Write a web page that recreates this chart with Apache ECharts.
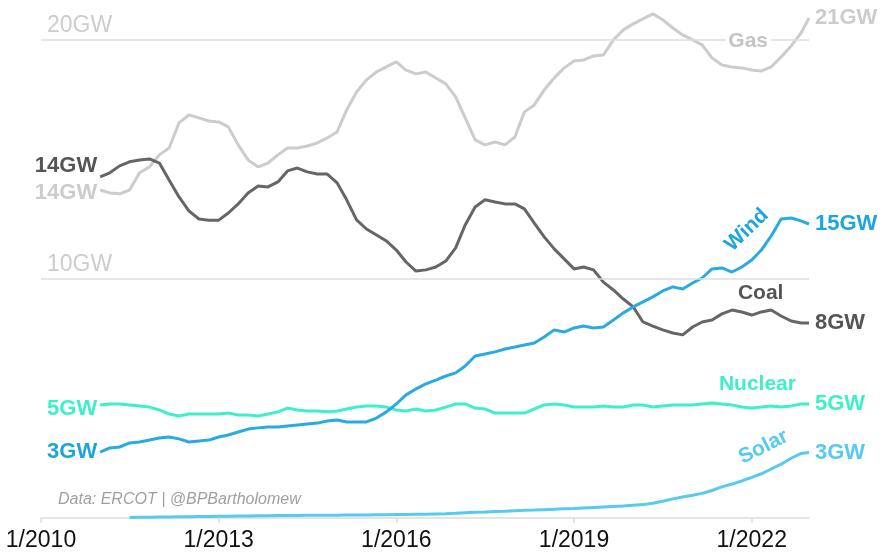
<!DOCTYPE html>
<html>
<head>
<meta charset="utf-8">
<script src="https://cdn.jsdelivr.net/npm/echarts@6/dist/echarts.min.js"></script>
<style>
  html, body { margin: 0; padding: 0; background: #fff; }
  #chart { width: 884px; height: 554px; }
</style>
</head>
<body>
<div id="chart"></div>
<script>
// every 2 months from 1/2011, last point mid Dec 2022
const dates = []
for (let m = 12; m <= 154; m += 2) {
  dates.push(`${2010 + Math.floor(m / 12)}-${String(m % 12 + 1).padStart(2, '0')}-01`)
}
dates.push('2022-12-20')

const gas = [13.72, 13.6, 13.56, 13.72, 14.44, 14.69, 15.19, 15.48, 16.53, 16.86, 16.74, 16.61,
  16.57, 16.36, 15.61, 14.98, 14.69, 14.85, 15.19, 15.48, 15.48, 15.56, 15.69, 15.9,
  16.15, 17.07, 17.82, 18.33, 18.66, 18.87, 19.08, 18.74, 18.58, 18.66, 18.41, 18.16,
  17.62, 16.74, 15.82, 15.61, 15.73, 15.61, 15.94, 16.99, 17.28, 17.91, 18.41, 18.83,
  19.12, 19.16, 19.33, 19.37, 20.0, 20.42, 20.67, 20.88, 21.09, 20.84, 20.5, 20.21,
  20.0, 19.79, 19.25, 18.95, 18.87, 18.83, 18.74, 18.7, 18.87, 19.29, 19.75, 20.29, 20.92]

const coal = [14.27, 14.44, 14.73, 14.9, 14.98, 15.02, 14.85, 14.14, 13.43, 12.85, 12.51, 12.46,
  12.46, 12.76, 13.14, 13.6, 13.89, 13.85, 14.06, 14.52, 14.64, 14.48, 14.39, 14.39,
  14.02, 13.31, 12.47, 12.09, 11.84, 11.59, 11.21, 10.71, 10.33, 10.38, 10.5, 10.75,
  11.3, 12.26, 13.01, 13.31, 13.22, 13.14, 13.14, 12.93, 12.34, 11.76, 11.26, 10.84,
  10.42, 10.5, 10.38, 9.87, 9.54, 9.16, 8.83, 8.2, 8.03, 7.87, 7.74, 7.66,
  7.99, 8.2, 8.28, 8.54, 8.7, 8.62, 8.49, 8.62, 8.7, 8.45, 8.24, 8.16, 8.16]

const wind = [2.76, 2.93, 2.97, 3.14, 3.18, 3.26, 3.35, 3.39, 3.31, 3.18, 3.22, 3.26,
  3.39, 3.47, 3.6, 3.72, 3.77, 3.81, 3.81, 3.85, 3.89, 3.93, 3.97, 4.06,
  4.1, 4.02, 4.02, 4.02, 4.18, 4.44, 4.77, 5.15, 5.4, 5.61, 5.77, 5.94,
  6.07, 6.36, 6.78, 6.86, 6.95, 7.07, 7.15, 7.24, 7.32, 7.57, 7.87, 7.78,
  7.95, 8.03, 7.95, 7.99, 8.28, 8.58, 8.83, 9.04, 9.25, 9.5, 9.67, 9.58,
  9.83, 10.04, 10.42, 10.46, 10.29, 10.5, 10.79, 11.21, 11.8, 12.51, 12.55, 12.43, 12.3]

const nuclear = [4.73, 4.77, 4.77, 4.73, 4.69, 4.64, 4.52, 4.35, 4.27, 4.35, 4.35, 4.35,
  4.35, 4.39, 4.31, 4.31, 4.27, 4.35, 4.44, 4.6, 4.52, 4.48, 4.48, 4.44,
  4.48, 4.56, 4.64, 4.69, 4.69, 4.64, 4.52, 4.48, 4.56, 4.48, 4.52, 4.64,
  4.77, 4.77, 4.6, 4.56, 4.39, 4.39, 4.39, 4.39, 4.56, 4.73, 4.77, 4.73,
  4.64, 4.64, 4.64, 4.69, 4.64, 4.64, 4.73, 4.73, 4.64, 4.69, 4.73, 4.73,
  4.73, 4.77, 4.81, 4.77, 4.73, 4.64, 4.6, 4.64, 4.69, 4.64, 4.69, 4.77, 4.77]

// solar shows up from 7/2011
const solar = [null, null, null, 0.02, 0.03, 0.03, 0.04, 0.04, 0.05, 0.05, 0.06, 0.06,
  0.07, 0.07, 0.08, 0.08, 0.09, 0.09, 0.1, 0.1, 0.1, 0.11, 0.11, 0.12,
  0.12, 0.13, 0.13, 0.13, 0.14, 0.14, 0.15, 0.15, 0.16, 0.16, 0.17, 0.18,
  0.2, 0.22, 0.24, 0.25, 0.27, 0.28, 0.3, 0.32, 0.33, 0.35, 0.37, 0.39,
  0.4, 0.42, 0.44, 0.46, 0.48, 0.5, 0.53, 0.56, 0.62, 0.7, 0.8, 0.88,
  0.95, 1.03, 1.15, 1.3, 1.42, 1.55, 1.7, 1.85, 2.05, 2.25, 2.5, 2.7, 2.74]

const tickDates = ['2010-01-01', '2013-01-01', '2016-01-01', '2019-01-01', '2022-01-01']
const tickLabels = ['1/2010', '1/2013', '1/2016', '1/2019', '1/2022']
const gridValues = [10, 20]
const gridLabels = ['10GW', '20GW']

const FONT = '"Liberation Sans", Arial, sans-serif'
const colors = {
  gas: '#cccccc',
  coal: '#666666',
  wind: '#2aaae2',
  nuclear: '#3ef0c9',
  solar: '#55cbf0'
}

// x axis is a plain value axis in ms so the ticks can sit on exact dates
const ts = d => +new Date(d + 'T00:00:00Z')
const tickTimes = tickDates.map(ts)
const xs = dates.map(ts)

function pairs (vals) {
  return xs.map((x, i) => [x, vals[i]])
}

function startLabel (vals, text, color, offsetY) {
  return {
    silent: true,
    data: [{
      coord: [xs[0], vals[0]],
      symbol: 'circle',
      symbolSize: 0,
      label: {
        show: true,
        position: 'left',
        distance: 3,
        offset: [0, offsetY],
        formatter: text,
        color: color,
        fontFamily: FONT,
        fontWeight: 'bold',
        fontSize: 22
      }
    }]
  }
}

function nameLabel (date, value, text, color, rotate, bg) {
  const label = {
    show: true,
    position: 'inside',
    formatter: text,
    color: color,
    rotate: rotate,
    fontFamily: FONT,
    fontWeight: 'bold',
    fontSize: 21
  }
  if (bg) {
    label.backgroundColor = bg
    label.padding = [1, 3]
  }
  return { coord: [ts(date), value], symbol: 'circle', symbolSize: 0, label: label }
}

function lineSeries (name, vals, color, endText) {
  return {
    name: name,
    type: 'line',
    showSymbol: false,
    data: pairs(vals),
    lineStyle: { color: color, width: 3 },
    itemStyle: { color: color },
    endLabel: {
      show: true,
      distance: 6,
      formatter: endText,
      color: color,
      fontFamily: FONT,
      fontWeight: 'bold',
      fontSize: 22
    }
  }
}

const gasSeries = lineSeries('Gas', gas, colors.gas, '21GW')
gasSeries.markLine = {
  silent: true,
  symbol: 'none',
  lineStyle: { color: '#dedede', width: 1.5, type: 'solid' },
  label: {
    show: true,
    position: 'insideStartTop',
    distance: [6, 3],
    color: '#cccccc',
    fontFamily: FONT,
    fontSize: 23,
    formatter: p => gridLabels[gridValues.indexOf(p.value)]
  },
  data: gridValues.map(v => ({ yAxis: v }))
}
gasSeries.markPoint = startLabel(gas, '14GW', colors.gas, 3)
gasSeries.markPoint.data.push(nameLabel('2021-12-10', 19.95, 'Gas', '#c4c4c4', 0, '#fff'))

const coalSeries = lineSeries('Coal', coal, colors.coal, '8GW')
coalSeries.endLabel.color = '#555'
coalSeries.markPoint = startLabel(coal, '14GW', '#555', -11)
coalSeries.markPoint.data.push(nameLabel('2022-02-25', 9.4, 'Coal', '#555', 0))

const windSeries = lineSeries('Wind', wind, colors.wind, '15GW')
windSeries.endLabel.color = '#1ba5de'
windSeries.markPoint = startLabel(wind, '3GW', '#1ba5de', 0)
windSeries.markPoint.data.push(nameLabel('2021-12-01', 12.05, 'Wind', '#1ba5de', 44))

const nuclearSeries = lineSeries('Nuclear', nuclear, colors.nuclear, '5GW')
nuclearSeries.markPoint = startLabel(nuclear, '5GW', colors.nuclear, 4)
nuclearSeries.markPoint.data.push(nameLabel('2022-02-05', 5.6, 'Nuclear', colors.nuclear, 0))

const solarSeries = lineSeries('Solar', solar, colors.solar, '3GW')
solarSeries.markPoint = {
  silent: true,
  data: [nameLabel('2022-03-15', 2.97, 'Solar', colors.solar, 27)]
}

const chart = echarts.init(document.getElementById('chart'), null, { renderer: 'canvas' })
chart.setOption({
  animation: false,
  backgroundColor: '#fff',
  textStyle: { fontFamily: FONT },
  grid: { left: 41, right: 75, top: 0, bottom: 36, containLabel: false },
  xAxis: {
    type: 'value',
    min: ts('2010-01-01'),
    max: ts('2022-12-20'),
    splitLine: { show: false },
    axisLine: { onZero: false, lineStyle: { color: '#dcdcdc', width: 1.5 } },
    axisTick: { show: true, length: 5, customValues: tickTimes, lineStyle: { color: '#dcdcdc', width: 1.5 } },
    axisLabel: {
      customValues: tickTimes,
      formatter: v => tickLabels[tickTimes.indexOf(v)] || '',
      color: '#111',
      fontFamily: FONT,
      fontSize: 23,
      margin: 11,
      showMinLabel: true,
      showMaxLabel: true,
      hideOverlap: false
    }
  },
  yAxis: {
    type: 'value',
    min: 0,
    max: 21.67,
    axisLine: { show: false },
    axisTick: { show: false },
    axisLabel: { show: false },
    splitLine: { show: false }
  },
  graphic: [{
    type: 'text',
    left: 58,
    top: 492,
    style: {
      text: 'Data: ERCOT | @BPBartholomew',
      fill: '#a0a0a0',
      font: 'italic 16px "Liberation Sans", Arial, sans-serif'
    }
  }],
  series: [gasSeries, coalSeries, nuclearSeries, windSeries, solarSeries]
})
</script>
</body>
</html>
